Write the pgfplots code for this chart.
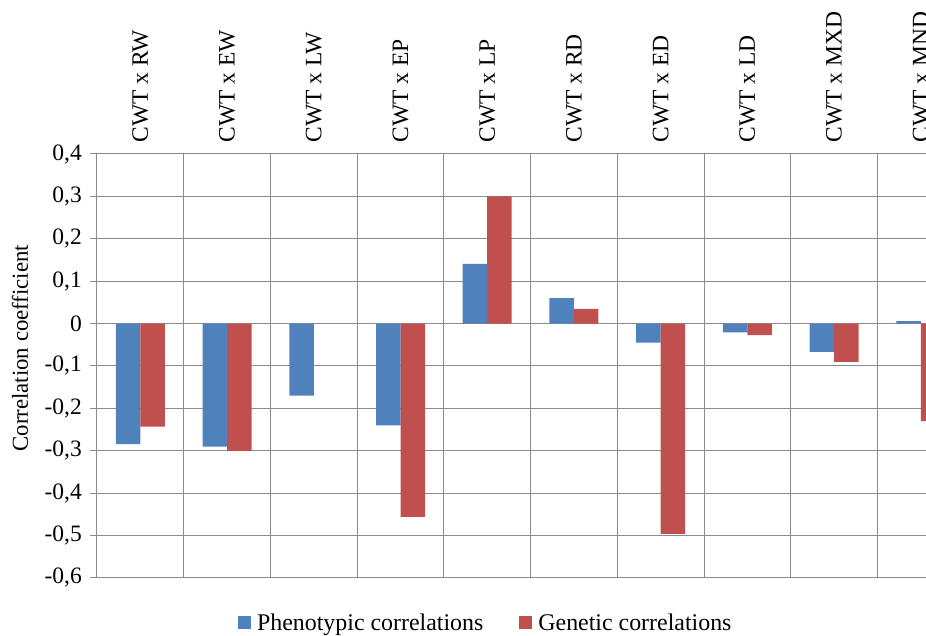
\documentclass[border=0pt]{standalone}
\usepackage{pgfplots}
\pgfplotsset{compat=1.18}
\usepackage{fontspec}
\setmainfont{Liberation Serif}
\definecolor{phen}{RGB}{79,129,189}
\definecolor{gen}{RGB}{192,80,77}
\definecolor{gridc}{RGB}{140,140,140}
\newcommand\catfont{\fontsize{23.5bp}{27bp}\selectfont}
\newcommand\tkfont{\fontsize{23.5bp}{27bp}\selectfont}
\newcommand\ylfont{\fontsize{22.8bp}{27bp}\selectfont}
\newcommand\lgfont{\fontsize{23.9bp}{28bp}\selectfont}
\begin{document}
\begin{tikzpicture}
\begin{axis}[name=ax, scale only axis, width=829bp, height=424bp,
 xmin=-0.5, xmax=9.06, ymin=-0.6, ymax=0.4,
 ybar=0pt, bar width=24.5bp,
 axis line style={draw=none},
 xtick={0,...,9},
 xticklabels={CWT x RW, CWT x EW, CWT x LW, CWT x EP, CWT x LP, CWT x RD, CWT x ED, CWT x LD, CWT x MXD, CWT x MND},
 xticklabel pos=upper,
 x tick label style={rotate=90, anchor=west, font=\catfont, xshift=1bp},
 minor xtick={-0.5,0.5,...,8.5},
 xminorgrids=true, xmajorgrids=false,
 major x tick style={draw=none},
 minor x tick style={draw=none},
 ytick={-0.6,-0.5,-0.4,-0.3,-0.2,-0.1,0,0.1,0.2,0.3,0.4},
 ymajorgrids=true,
 ytick pos=left,
 tick align=outside,
 major tick length=7bp,
 major y tick style={gridc, line width=1bp},
 grid style={gridc, line width=1bp},
 minor grid style={gridc, line width=1bp},
 yticklabel style={font=\tkfont, inner sep=0pt, xshift=-8bp, /pgf/number format/fixed, /pgf/number format/use comma, /pgf/number format/assume math mode=true},
 ylabel={Correlation coefficient},
 every axis y label/.style={at={(axis description cs:-0.0929,0.542)}, rotate=90, anchor=center, font=\ylfont},
 legend columns=2,
 legend style={draw=none, at={(axis description cs:0.469,-0.106)}, anchor=center, font=\lgfont, /tikz/every even column/.append style={column sep=34bp}},
 legend image code/.code={\fill[#1] (0bp,-6.5bp) rectangle (13bp,6.5bp); \path (17bp,0bp);},
]
\addplot[fill=phen, draw=none] coordinates {(0,-0.284) (1,-0.29) (2,-0.17) (3,-0.24) (4,0.141) (5,0.06) (6,-0.045) (7,-0.021) (8,-0.067) (9,0.006)};
\addplot[fill=gen, draw=none] coordinates {(0,-0.243) (1,-0.30) (3,-0.456) (4,0.30) (5,0.035) (6,-0.496) (7,-0.027) (8,-0.09) (9,-0.23)};
\legend{Phenotypic correlations, Genetic correlations}
\end{axis}
\pgfresetboundingbox
\path[use as bounding box] ([shift={(-97bp,-58bp)}]ax.south west) rectangle ([shift={(0bp,154bp)}]ax.north east);
\end{tikzpicture}
\end{document}
